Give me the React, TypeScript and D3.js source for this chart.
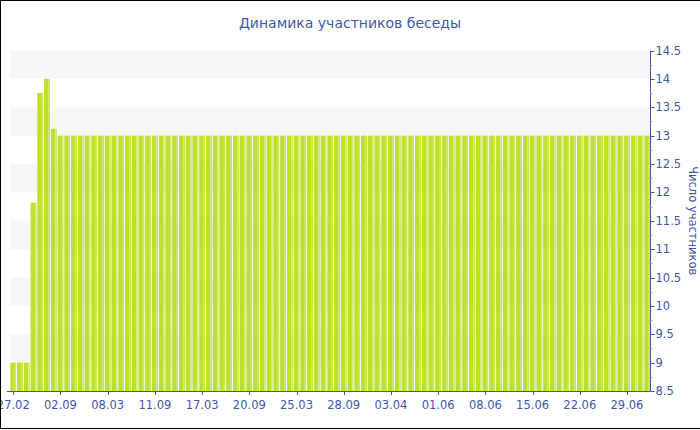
import React from "react";
import * as d3 from "d3";

const title = "Динамика участников беседы";
const yTitle = "Число участников";
const tickLabels = ["27.02", "02.09", "08.03", "11.09", "17.03", "20.09", "25.03", "28.09", "03.04", "01.06", "08.06", "15.06", "22.06", "29.06"];
const headValues = [9, 9, 9, 11.82, 13.75, 14, 13.12];
const tailValue = 13;
const tailCount = 88;
const values: number[] = [...headValues, ...Array(tailCount).fill(tailValue)];
const tickEvery = 7;

const W = 700, H = 430;
const left = 10, right = 650.5, top = 50.5, bottom = 391;
const blue = "#3f58a6";
const font = "DejaVu Sans, Verdana, sans-serif";

export default function App() {
  const idx = values.map((_, i) => i);
  const x = d3.scaleBand<number>().domain(idx).range([left, right]).paddingInner(0.13).paddingOuter(0.05);
  const y = d3.scaleLinear().domain([8.5, 14.5]).range([bottom, top]);
  const majors = d3.range(8.5, 14.5001, 0.5);
  const minors = d3.range(8.75, 14.5, 0.5);
  const bands = d3.range(9, 14.5, 1);
  const bw = x.bandwidth();
  return (
    <svg width={W} height={H} style={{ position: "absolute", left: 0, top: 0 }} fontFamily={font}>
      <rect x={0} y={0} width={W} height={H} fill="#fff" />
      {bands.map((b) => (
        <rect key={b} x={left} y={y(b + 0.5)} width={right - left} height={y(b) - y(b + 0.5)} fill="#f7f7f7" />
      ))}
      {values.map((v, i) => (
        <g key={i}>
          <rect x={x(i)} y={y(v)} width={bw} height={bottom - y(v)} fill="#c0e02e" />
          <rect x={(x(i) as number) + bw - 1.6} y={y(v)} width={0.9} height={bottom - y(v)} fill="#d8ee85" />
        </g>
      ))}
      <line x1={right} x2={right} y1={top} y2={bottom} stroke={blue} strokeWidth={1} />
      <line x1={left - 3} x2={right} y1={bottom + 0.5} y2={bottom + 0.5} stroke={blue} strokeWidth={1} />
      {minors.map((m) => (
        <line key={m} x1={right - 1} x2={right + 2} y1={Math.round(y(m)) + 0.5} y2={Math.round(y(m)) + 0.5} stroke="#9aa3bf" />
      ))}
      {majors.map((m) => (
        <g key={m}>
          <line x1={right} x2={right + 4} y1={Math.round(y(m)) + 0.5} y2={Math.round(y(m)) + 0.5} stroke={blue} />
          <text x={right + 5} y={y(m)} dy="0.35em" fontSize={11.5} fill={blue}>{String(m)}</text>
        </g>
      ))}
      {tickLabels.map((t, k) => {
        const cx = (x(k * tickEvery) as number) + bw / 2;
        return (
          <g key={t + k}>
            <line x1={Math.round(cx) + 0.5} x2={Math.round(cx) + 0.5} y1={bottom} y2={bottom + 4} stroke={blue} />
            <text x={cx} y={bottom + 18} textAnchor="middle" fontSize={11.5} fill={blue}>{t}</text>
          </g>
        );
      })}
      <text x={W / 2} y={28} textAnchor="middle" fontSize={14} fill={blue}>{title}</text>
      <text transform={`translate(689,${(top + bottom) / 2}) rotate(90)`} textAnchor="middle" fontSize={11.5} fill={blue}>{yTitle}</text>
      <rect x={0.5} y={0.5} width={W + 20} height={H - 2} fill="none" stroke="#000" strokeWidth={1} />
    </svg>
  );
}
